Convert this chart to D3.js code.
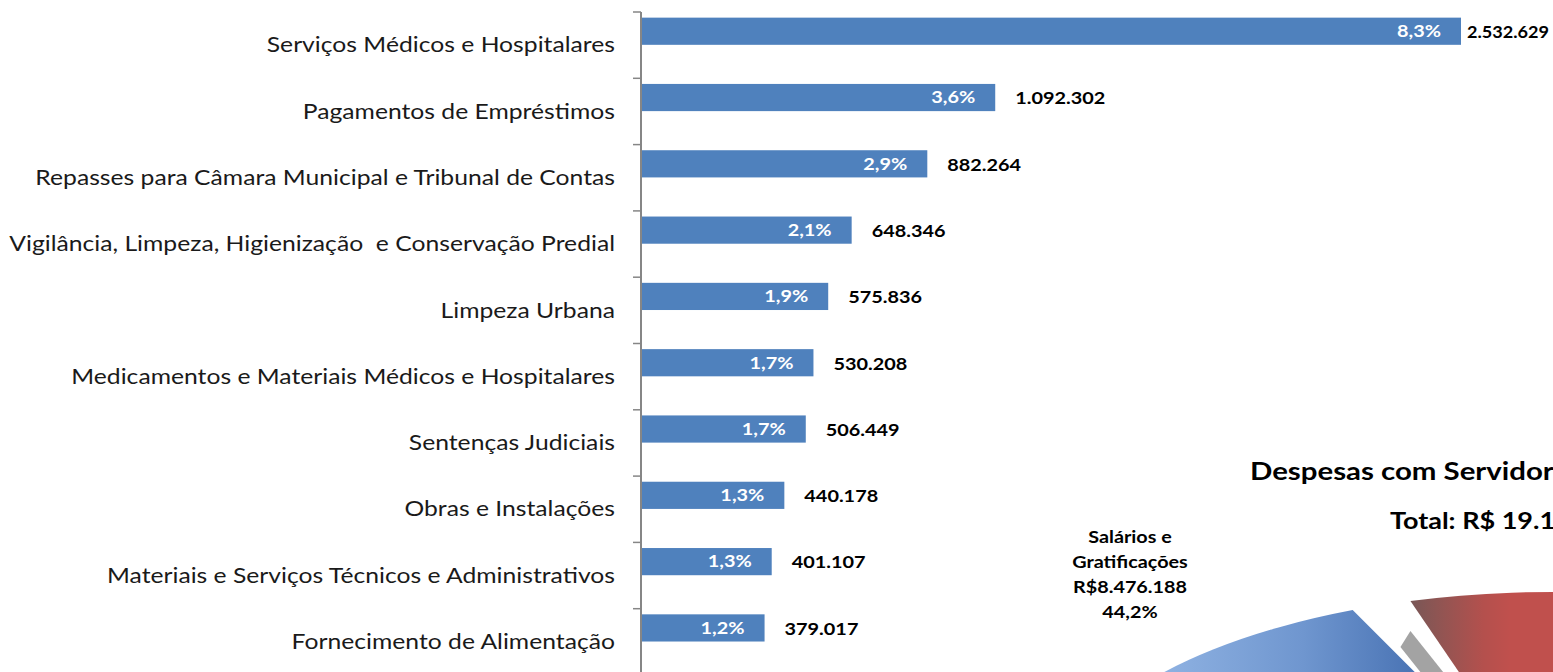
<!DOCTYPE html>
<html><head><meta charset="utf-8">
<script src="https://cdn.jsdelivr.net/npm/d3@7"></script>
<style>html,body{margin:0;padding:0;background:#fff;overflow:hidden}svg{display:block}text.cat{white-space:pre}</style>
</head><body>
<svg id="c" width="1553" height="672"></svg>
<script>
// ---- data ----
const categories = [
  "Serviços Médicos e Hospitalares",
  "Pagamentos de Empréstimos",
  "Repasses para Câmara Municipal e Tribunal de Contas",
  "Vigilância, Limpeza, Higienização  e Conservação Predial",
  "Limpeza Urbana",
  "Medicamentos e Materiais Médicos e Hospitalares",
  "Sentenças Judiciais",
  "Obras e Instalações",
  "Materiais e Serviços Técnicos e Administrativos",
  "Fornecimento de Alimentação"
];
const values = [2532629, 1092302, 882264, 648346, 575836, 530208, 506449, 440178, 401107, 379017];
const percents = [8.3, 3.6, 2.9, 2.1, 1.9, 1.7, 1.7, 1.3, 1.3, 1.2];

const pieTitle = "Despesas com Servidores";
const pieTotal = "Total: R$ 19.176.896";
const pieNames = ["Salários e Gratificações", "Encargos", "Outros A", "Outros B"];
const pieValues = [8476188, 5400000, 3300000, 2000708];
const pieShares = [44.2, 28.2, 17.2, 10.4];

// ---- setup ----
const svg = d3.select("#c");
const W = 1553, H = 672;
const SX = 1.205; // horizontal stretch of the original lettering
const loc = d3.formatLocale({decimal: ",", thousands: ".", grouping: [3], currency: ["R$", ""]});
const fmtInt = loc.format(",d");
const fmtPct = v => loc.format(".1f")(v) + "%";
const FONT = "Lato, 'Open Sans', sans-serif";
const deg = Math.PI / 180;

// ---- pie (drawn first, behind) ----
const pcx = 1553, pcy = 810, prx = 502, pry = 218;
const total = d3.sum(pieValues);
const boundary = -20 * deg;
const gap = 7 * deg;
const startA = boundary - 2 * Math.PI * pieValues[0] / total;
const pie = d3.pie().sort(null).value(d => d).startAngle(startA).endAngle(startA + 2 * Math.PI);
const arcs = pie(pieValues);
const arcGen = d3.arc().innerRadius(0).outerRadius(1)
  .startAngle(d => d.startAngle + gap / 2).endAngle(d => d.endAngle - gap / 2);
const pieColors = [
  [["0", "#8fb2e2"], ["0.55", "#6f96cf"], ["1", "#4872b3"]],
  [["0", "#735757"], ["0.3", "#8e5553"], ["0.75", "#b4504d"], ["1", "#c0504d"]],
  [["0", "#9bbb59"], ["1", "#9bbb59"]],
  [["0", "#8064a2"], ["1", "#8064a2"]]
];
const gradX = [[1160, 1420], [1405, 1510], [1400, 1600], [1400, 1600]];
const defs = svg.append("defs");
pieColors.forEach((c, i) => {
  const g = defs.append("linearGradient").attr("id", "pg" + i).attr("gradientUnits", "userSpaceOnUse")
    .attr("x1", (gradX[i][0] - pcx) / prx).attr("x2", (gradX[i][1] - pcx) / prx).attr("y1", 0).attr("y2", 0);
  c.forEach(s => g.append("stop").attr("offset", s[0]).attr("stop-color", s[1]));
});
const pg = svg.append("g");
// side wall of the second slice along its start edge
{
  const a = arcs[1].startAngle + gap / 2;
  const ex = pcx + Math.sin(a) * prx, ey = pcy - Math.cos(a) * pry;
  const dep = 16;
  pg.append("path")
    .attr("d", `M${ex},${ey + 30}L${pcx},${pcy}L${pcx - 10},${pcy + dep}L${ex - 10},${ey + 30 + dep}Z`)
    .attr("fill", "#a3a3a3");
}
[1, 2, 3, 0].forEach(i => {
  pg.append("path")
    .attr("d", arcGen(arcs[i]))
    .attr("transform", `translate(${pcx},${pcy}) scale(${prx},${pry})`)
    .attr("fill", `url(#pg${i})`);
});

function stext(sel, x, y, sx) {
  return sel.attr("transform", `translate(${x},${y}) scale(${sx},1)`);
}
stext(svg.append("text"), 1250, 480, 1.2).attr("font-family", FONT).attr("font-weight", "bold")
  .attr("font-size", 24.5).attr("fill", "#000").text(pieTitle);
stext(svg.append("text"), 1390, 529, 1.2).attr("font-family", FONT).attr("font-weight", "bold")
  .attr("font-size", 22.5).attr("fill", "#000").text(pieTotal);
["Salários e", "Gratificações", "R$" + fmtInt(pieValues[0]), fmtPct(pieShares[0])].forEach((t, i) => {
  stext(svg.append("text"), 1130, 543 + i * 25, 1.2).attr("font-family", FONT).attr("font-weight", "bold")
    .attr("font-size", 16.5).attr("text-anchor", "middle").attr("fill", "#000").text(t);
});

// ---- bar chart ----
const axisX = 641;
const y = d3.scaleBand().domain(categories).range([12, 12 + 66.3 * categories.length]).paddingInner(0).paddingOuter(0);
const x = d3.scaleLinear().domain([0, d3.max(values)]).range([axisX + 1, 1461]);
const bw = y.bandwidth();
const barOff = bw * 0.085, barH = bw * 0.41;

svg.append("g").selectAll("rect").data(values).join("rect")
  .attr("x", x(0)).attr("y", (d, i) => y(categories[i]) + barOff)
  .attr("width", d => x(d) - x(0)).attr("height", barH)
  .attr("fill", "#4f81bd");

// axis: tick marks at band boundaries
const axG = svg.append("g").attr("transform", `translate(${axisX},0)`);
const bounds = categories.map(c => y(c)).concat([y(categories[categories.length - 1]) + bw]);
axG.selectAll("line.tk").data(bounds).join("line").attr("class", "tk")
  .attr("x1", -8).attr("x2", 0).attr("y1", d => d).attr("y2", d => d)
  .attr("stroke", "#868686").attr("stroke-width", 1.5);
axG.append("line").attr("x1", 0).attr("x2", 0).attr("y1", bounds[0]).attr("y2", H + 5)
  .attr("stroke", "#868686").attr("stroke-width", 2);

// category labels
svg.selectAll("text.cat").data(categories).join("text").attr("class", "cat")
  .attr("transform", d => `translate(${axisX - 26},${y(d) + bw / 2}) scale(${SX},1)`)
  .attr("dy", "0.35em")
  .attr("text-anchor", "end").attr("font-family", FONT).attr("font-size", 20.5).attr("fill", "#1a1a1a")
  .text(d => d);

// percent labels
svg.selectAll("text.pct").data(percents).join("text").attr("class", "pct")
  .attr("transform", (d, i) => `translate(${x(values[i]) - 42},${y(categories[i]) + barOff + barH / 2}) scale(${SX},1)`)
  .attr("dy", "0.35em")
  .attr("text-anchor", "middle").attr("font-family", FONT).attr("font-weight", "bold").attr("font-size", 16.5)
  .attr("fill", "#fff").text(d => fmtPct(d));

// value labels (squeezed to fit when near the right edge)
svg.selectAll("text.val").data(values).join("text").attr("class", "val")
  .attr("dy", "0.35em")
  .attr("font-family", FONT).attr("font-weight", "bold").attr("font-size", 16.5).attr("fill", "#000")
  .text(d => fmtInt(d))
  .attr("transform", function (d, i) {
    const raw = this.getComputedTextLength();
    let px = x(d) + 20, sx = SX;
    if (px + raw * sx > W - 4) {
      px = Math.max(x(d) + 6, W - 4 - raw * sx);
      sx = Math.min(SX, (W - 4 - px) / raw);
    }
    return `translate(${px},${y(categories[i]) + barOff + barH / 2 + 1}) scale(${sx},1)`;
  });
</script>
</body></html>
